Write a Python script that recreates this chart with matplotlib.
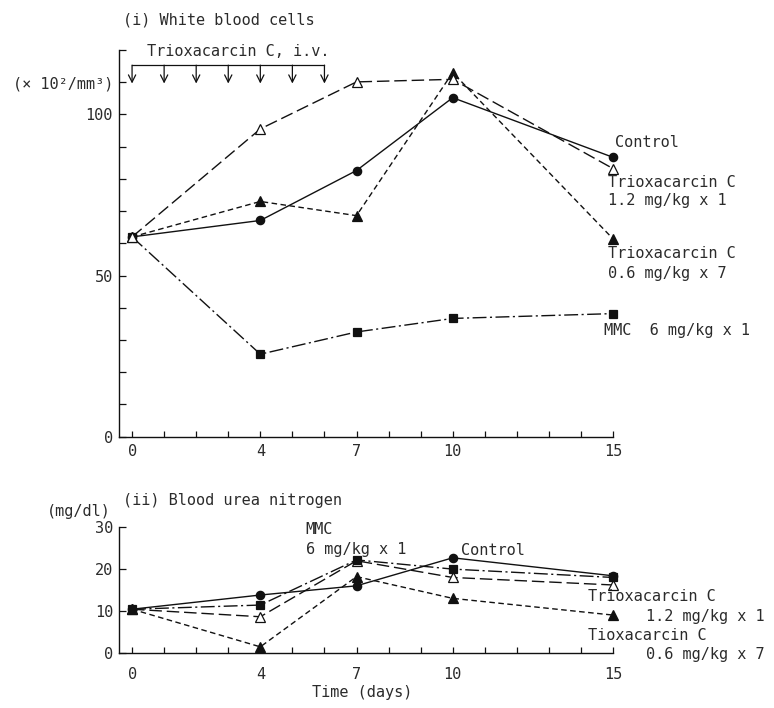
"""White blood cell and blood urea nitrogen time courses after Trioxacarcin C / MMC."""

import matplotlib
matplotlib.use("Agg")
import matplotlib.pyplot as plt

W, H = 774, 708
INK = "#111111"
TEXT = "#2b2b2b"
FONT = "DejaVu Sans Mono"

days = [0, 4, 7, 10, 15]
tick_labels = {0: "0", 4: "4", 7: "7", 10: "10", 15: "15"}
dose_days = [0, 1, 2, 3, 4, 5, 6]

# (i) white blood cells (x 10^2 / mm^3)
wbc_control = [62.0, 67.1, 82.6, 105.2, 86.7]
wbc_trio_single = [62.0, 95.5, 110.1, 110.9, 83.2]
wbc_trio_multi = [62.0, 73.0, 68.6, 113.0, 61.4]
wbc_mmc = [62.0, 25.6, 32.5, 36.7, 38.2]

# (ii) blood urea nitrogen (mg/dl)
bun_control = [10.4, 13.8, 16.0, 22.7, 18.4]
bun_trio_single = [10.4, 8.6, 22.0, 18.0, 16.2]
bun_trio_multi = [10.4, 1.4, 18.2, 13.0, 9.0]
bun_mmc = [10.4, 11.4, 22.2, 20.0, 18.0]

STYLES = {
    "control": dict(linestyle="-", marker="o", markersize=6,
                    markerfacecolor=INK),
    "trio_single": dict(linestyle=(0, (9, 3.5)), marker="^", markersize=6.5,
                        markerfacecolor="white"),
    "trio_multi": dict(linestyle=(0, (4, 2.5)), marker="^", markersize=6.5,
                       markerfacecolor=INK),
    "mmc": dict(linestyle=(0, (10, 2.5, 1.5, 2.5)), marker="s", markersize=5.8,
                markerfacecolor=INK),
}


def fig_xy(x, y):
    """Pixel position in the 774x708 picture -> figure fraction."""
    return x / W, 1 - y / H


def style_axis(ax, ymax, ystep, ylabels, label_pad):
    for side in ("top", "right"):
        ax.spines[side].set_visible(False)
    for side in ("left", "bottom"):
        ax.spines[side].set_linewidth(1.0)
        ax.spines[side].set_color(INK)
    ax.set_xlim(-0.42, 15)
    ax.set_ylim(0, ymax)
    ax.set_xticks(range(16))
    ax.set_xticklabels([tick_labels.get(d, "") for d in range(16)])
    yticks = list(range(0, ymax + 1, ystep))
    ax.set_yticks(yticks)
    ax.set_yticklabels([ylabels.get(v, "") for v in yticks])
    ax.tick_params(axis="x", direction="in", length=4.5, width=0.9,
                   colors=INK, labelcolor=TEXT, pad=label_pad)
    ax.tick_params(axis="y", direction="in", length=5, width=0.9,
                   colors=INK, labelcolor=TEXT, pad=4)
    for lab in ax.get_xticklabels() + ax.get_yticklabels():
        lab.set_fontfamily(FONT)
        lab.set_fontsize(11)
    ax.patch.set_alpha(0)


def draw_series(ax, series):
    for key, values in series:
        ax.plot(days, values, color=INK, linewidth=1.0,
                markeredgecolor=INK, markeredgewidth=0.9,
                clip_on=False, **STYLES[key])


def label(ax, x, y, text, **kw):
    ax.text(x, y, text, fontsize=11, family=FONT, color=TEXT,
            va="center", ha="left", clip_on=False, **kw)


fig = plt.figure(figsize=(W / 100, H / 100), dpi=100)

# ---- (i) white blood cells ----
ax1 = fig.add_axes([118.6 / W, 1 - 436.7 / H, 494.4 / W, 386.7 / H])
style_axis(ax1, 120, 10,
           {0: "0", 50: "50", 100: "100", 110: "(\u00d7 10\u00b2/mm\u00b3)"},
           label_pad=5)
draw_series(ax1, [("mmc", wbc_mmc), ("trio_multi", wbc_trio_multi),
                  ("control", wbc_control), ("trio_single", wbc_trio_single)])

# dosing schedule bracket with arrows
ax1.plot([dose_days[0], dose_days[-1]], [115.3, 115.3], color=INK,
         linewidth=0.9)
for d in dose_days:
    ax1.annotate("", xy=(d, 109.6), xytext=(d, 115.3),
                 arrowprops=dict(arrowstyle="->", color=INK, lw=0.9,
                                 shrinkA=0, shrinkB=0, mutation_scale=13))
ax1.text(3.3, 119.5, "Trioxacarcin C, i.v.", fontsize=11, family=FONT,
         color=TEXT, ha="center", va="center", clip_on=False)

label(ax1, 15.06, 91.2, "Control")
label(ax1, 14.84, 78.9, "Trioxacarcin C")
label(ax1, 14.84, 73.2, "1.2 mg/kg x 1")
label(ax1, 14.84, 56.8, "Trioxacarcin C")
label(ax1, 14.84, 50.6, "0.6 mg/kg x 7")
label(ax1, 14.72, 32.9, "MMC  6 mg/kg x 1")

fig.text(*fig_xy(123, 20), "(i) White blood cells", fontsize=11,
         family=FONT, color=TEXT, ha="left", va="center")

# ---- (ii) blood urea nitrogen ----
ax2 = fig.add_axes([118.6 / W, 1 - 652.7 / H, 494.4 / W, 125.4 / H])
style_axis(ax2, 30, 10, {0: "0", 10: "10", 20: "20", 30: "30"},
           label_pad=10)
draw_series(ax2, [("trio_multi", bun_trio_multi), ("trio_single", bun_trio_single),
                  ("mmc", bun_mmc), ("control", bun_control)])

label(ax2, 5.41, 29.5, "MMC")
label(ax2, 5.41, 24.7, "6 mg/kg x 1")
label(ax2, 10.25, 24.4, "Control")
label(ax2, 14.21, 13.4, "Trioxacarcin C")
label(ax2, 16.03, 8.6, "1.2 mg/kg x 1")
label(ax2, 14.21, 4.2, "Tioxacarcin C")
label(ax2, 16.03, -0.55, "0.6 mg/kg x 7")

fig.text(*fig_xy(123, 500), "(ii) Blood urea nitrogen", fontsize=11,
         family=FONT, color=TEXT, ha="left", va="center")
fig.text(*fig_xy(47, 511.7), "(mg/dl)", fontsize=11, family=FONT,
         color=TEXT, ha="left", va="center")
fig.text(*fig_xy(362, 692), "Time (days)", fontsize=11, family=FONT,
         color=TEXT, ha="center", va="center")

fig.savefig("out.png", dpi=100)
